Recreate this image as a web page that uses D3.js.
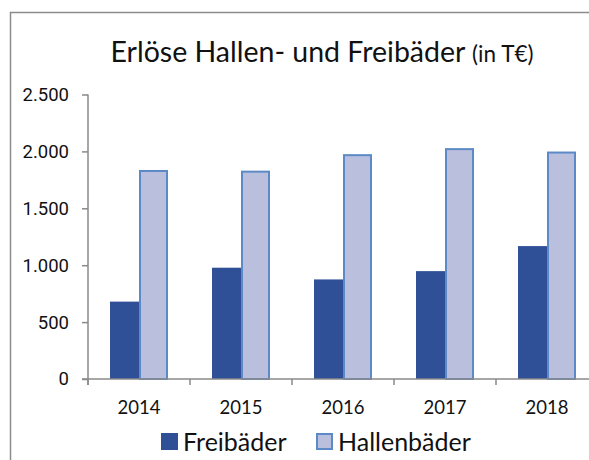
<!DOCTYPE html>
<html>
<head>
<meta charset="utf-8">
<script src="https://cdn.jsdelivr.net/npm/d3@7"></script>
<style>
  body { margin: 0; background: #fff; }
  svg { display: block; }
</style>
</head>
<body>
<div id="chart"></div>
<script>
var years = ["2014", "2015", "2016", "2017", "2018"];
var seriesNames = ["Freibäder", "Hallenbäder"];
var freibaeder = [680, 978, 875, 948, 1168];
var hallenbaeder = [1828, 1822, 1967, 2020, 1990];
var yTicks = [0, 500, 1000, 1500, 2000, 2500];

var width = 589, height = 460;
var colors = { "Freibäder": "#2f5097", "Hallenbäder": "#bbbfde" };
var strokes = { "Freibäder": "none", "Hallenbäder": "#5b8ac6" };

var svg = d3.select("#chart").append("svg")
    .attr("width", width)
    .attr("height", height);

// frame (right/bottom cut off in the original)
svg.append("path")
    .attr("d", "M10.5," + height + "V12.5H" + width)
    .attr("fill", "none")
    .attr("stroke", "#8c8c8c")
    .attr("stroke-width", 1.5);

// title
var title = svg.append("text")
    .attr("x", 322)
    .attr("y", 62)
    .attr("text-anchor", "middle")
    .attr("font-family", "Lato")
    .attr("fill", "#111");
title.append("tspan").attr("font-size", "28.5px").text("Erlöse Hallen- und Freibäder ");
title.append("tspan").attr("font-size", "22.5px").text("(in T€)");

var y = d3.scaleLinear().domain([0, 2500]).range([379, 94.5]);
var x0 = d3.scaleBand().domain(years).range([88, 598]);
var x1 = d3.scaleBand().domain(seriesNames).range([22, 80]);

// y axis
var yAxis = svg.append("g")
    .attr("transform", "translate(88,0)")
    .call(d3.axisLeft(y).tickValues(yTicks).tickSize(6).tickPadding(13)
        .tickFormat(function(d) { return d3.format(",")(d).replace(/,/g, "."); }));
yAxis.select(".domain").attr("stroke", "#8a8a8a").attr("stroke-width", 1.5)
    .attr("d", "M0,94.5V385");
yAxis.selectAll(".tick line").attr("stroke", "#8a8a8a").attr("stroke-width", 1.5);
yAxis.selectAll("text").attr("font-family", "Roboto").attr("font-size", "18.5px").attr("fill", "#111");

// groups of bars
var groups = svg.append("g").selectAll("g")
    .data(years)
    .enter().append("g")
    .attr("transform", function(d) { return "translate(" + x0(d) + ",0)"; });

groups.selectAll("rect")
    .data(function(d, i) {
      return [
        { key: "Freibäder", value: freibaeder[i] },
        { key: "Hallenbäder", value: hallenbaeder[i] }
      ];
    })
    .enter().append("rect")
    .attr("x", function(d) { return x1(d.key) + (d.key == "Hallenbäder" ? 1 : 0); })
    .attr("y", function(d) { return y(d.value); })
    .attr("width", function(d) { return x1.bandwidth() - (d.key == "Hallenbäder" ? 2 : 0); })
    .attr("height", function(d) { return y(0) - y(d.value); })
    .attr("fill", function(d) { return colors[d.key]; })
    .attr("stroke", function(d) { return strokes[d.key]; })
    .attr("stroke-width", 2);

// x axis
var xAxis = svg.append("g")
    .attr("transform", "translate(0,379)");
xAxis.append("line")
    .attr("x1", 82).attr("x2", width)
    .attr("stroke", "#8a8a8a").attr("stroke-width", 1.5);
xAxis.selectAll(".tk")
    .data(years)
    .enter().append("line")
    .attr("x1", function(d) { return x0(d); })
    .attr("x2", function(d) { return x0(d); })
    .attr("y1", 0).attr("y2", 6)
    .attr("stroke", "#8a8a8a").attr("stroke-width", 1.5);
xAxis.selectAll("text")
    .data(years)
    .enter().append("text")
    .attr("x", function(d) { return x0(d) + x0.bandwidth() / 2; })
    .attr("y", 35)
    .attr("text-anchor", "middle")
    .attr("font-family", "Lato")
    .attr("font-size", "18.5px")
    .attr("fill", "#111")
    .text(function(d) { return d; });

// legend
var legendX = [161, 316];
var legend = svg.append("g").selectAll("g")
    .data(seriesNames)
    .enter().append("g")
    .attr("transform", function(d, i) { return "translate(" + legendX[i] + ",433)"; });
legend.append("rect")
    .attr("x", function(d) { return d == "Hallenbäder" ? 1 : 0; })
    .attr("y", function(d) { return d == "Hallenbäder" ? 1 : 0; })
    .attr("width", function(d) { return d == "Hallenbäder" ? 15 : 17; })
    .attr("height", function(d) { return d == "Hallenbäder" ? 15 : 17; })
    .attr("fill", function(d) { return colors[d]; })
    .attr("stroke", function(d) { return strokes[d]; })
    .attr("stroke-width", 2);
legend.append("text")
    .attr("x", 22)
    .attr("y", 18)
    .attr("font-family", "Lato")
    .attr("font-size", "25px")
    .attr("fill", "#111")
    .text(function(d) { return d; });
</script>
</body>
</html>
